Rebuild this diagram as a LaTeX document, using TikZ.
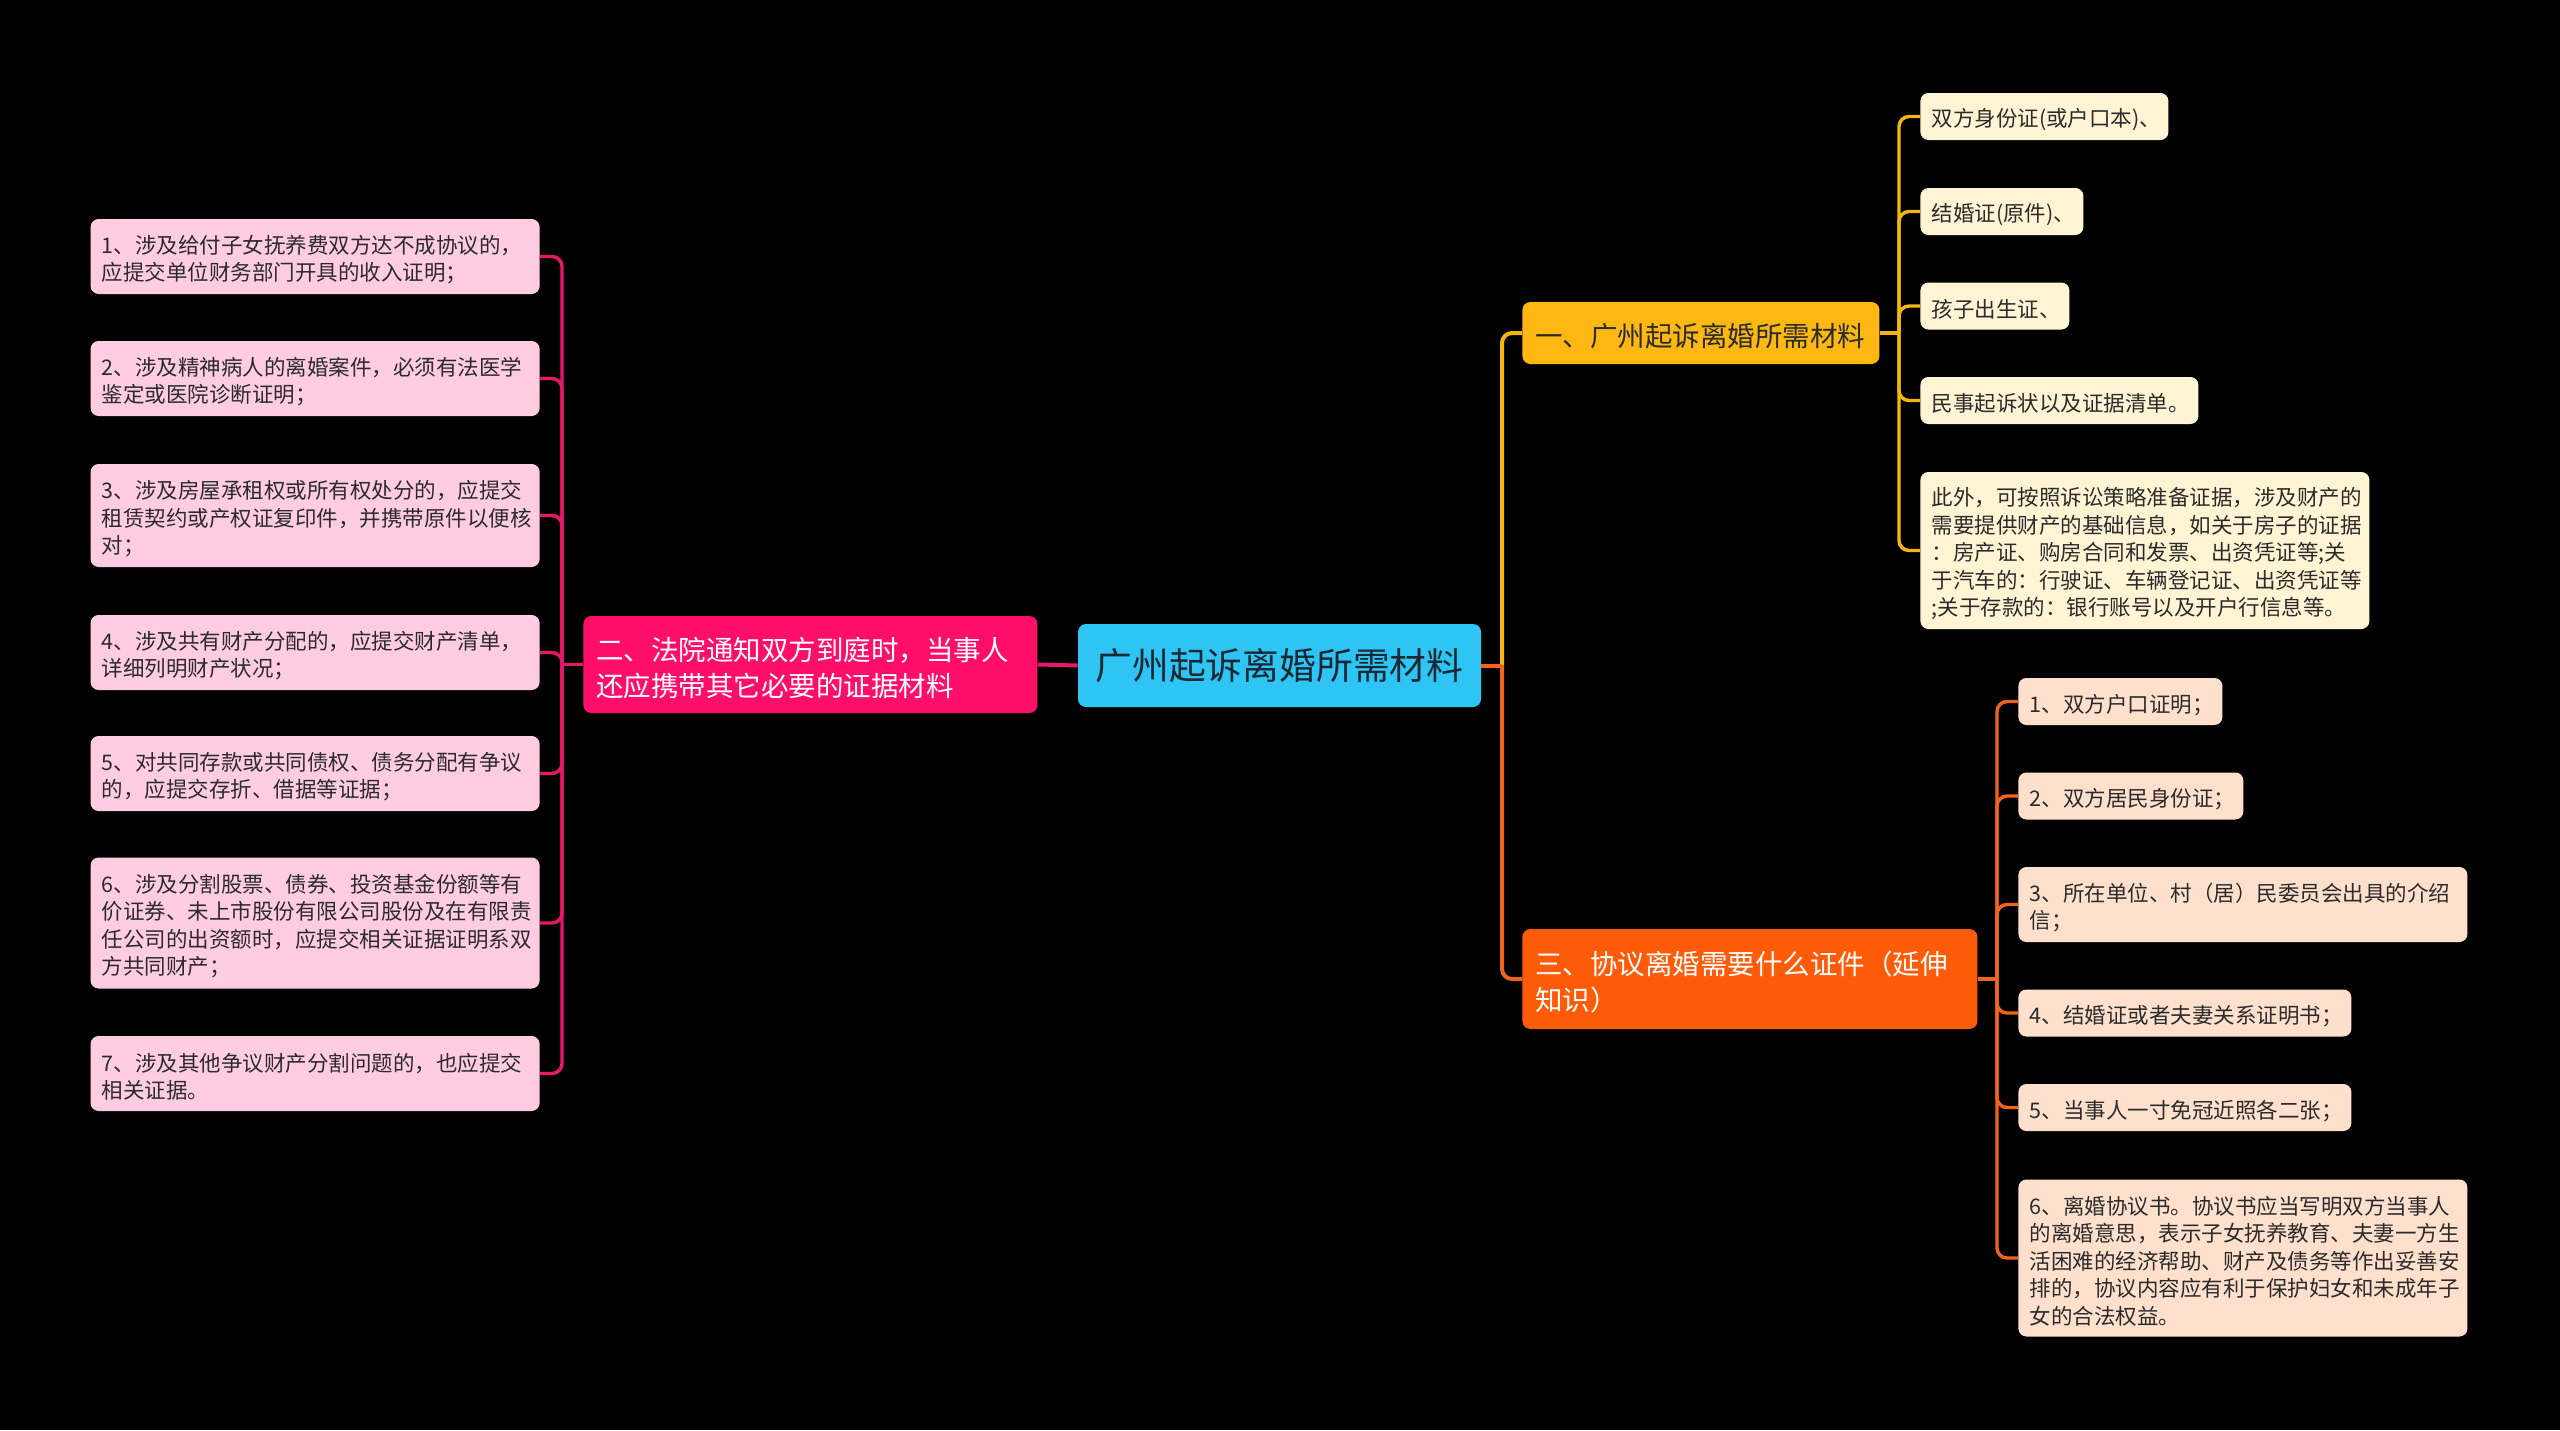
\documentclass[tikz,border=0pt]{standalone}
\usepackage{fontspec}
\setmainfont{Noto Sans CJK SC}
\definecolor{cyanC}{RGB}{46,196,243}
\definecolor{pinkB}{RGB}{255,15,106}
\definecolor{pinkL}{RGB}{255,204,225}
\definecolor{pinkLine}{RGB}{232,23,106}
\definecolor{goldB}{RGB}{255,184,17}
\definecolor{creamL}{RGB}{255,245,213}
\definecolor{goldLine}{RGB}{245,182,15}
\definecolor{orangeB}{RGB}{255,92,10}
\definecolor{peachL}{RGB}{255,224,205}
\definecolor{orangeLine}{RGB}{240,100,30}
\definecolor{darktext}{RGB}{43,43,43}
\tikzset{
  x=0.5pt, y=-0.5pt,
  leafbox/.style={rounded corners=4pt, inner xsep=5.6pt, inner ysep=0pt, align=left, text=darktext,
    font=\fontsize{10.75pt}{13.75pt}\selectfont, execute at begin node={\rule{0pt}{1.15em}}},
  branchbox/.style={rounded corners=4pt, inner xsep=6.5pt, inner ysep=0pt, align=left, text=white,
    font=\fontsize{13.75pt}{18pt}\selectfont, anchor=west, execute at begin node={\rule{0pt}{1.1em}}},
  pinkleaf/.style={leafbox, fill=pinkL, anchor=east, text width=213.3pt, minimum height=#1},
  creamleaf/.style={leafbox, fill=creamL, anchor=west},
  peachleaf/.style={leafbox, fill=peachL, anchor=west},
  pinkwire/.style={draw=pinkLine, line width=1.7pt, rounded corners=5pt},
  goldwire/.style={draw=goldLine, line width=1.7pt, rounded corners=5pt},
  orangewire/.style={draw=orangeLine, line width=1.7pt, rounded corners=5pt},
}
\begin{document}
\begin{tikzpicture}
\fill[black] (0,0) rectangle (2560,1430);
\useasboundingbox (0,0) rectangle (2560,1430);

% central
\node[rounded corners=4pt, fill=cyanC, text={rgb,255:red,26;green,40;blue,52}, inner sep=0pt,
  minimum width=201.5pt, minimum height=41.5pt, font=\fontsize{18.4pt}{22pt}\selectfont]
  (C) at (1279.5,665.5) {\raisebox{-1pt}{广州起诉离婚所需材料}};

% branches
\node[branchbox, fill=pinkB, text width=214pt, minimum height=48.5pt] (B2) at (583,664.5)
  {二、法院通知双方到庭时，当事人\\还应携带其它必要的证据材料};
\node[branchbox, fill=goldB, text=darktext, text width=165.5pt, minimum height=31pt] (B1) at (1522,333)
  {一、广州起诉离婚所需材料};
\node[branchbox, fill=orangeB, text width=214.5pt, minimum height=50pt] (B3) at (1522,979)
  {三、协议离婚需要什么证件（延伸\\知识）};

% left leaves
\node[pinkleaf=37.5pt] (L1) at (540,256.5) {1、涉及给付子女抚养费双方达不成协议的，\\应提交单位财务部门开具的收入证明；};
\node[pinkleaf=37.5pt] (L2) at (540,378.5) {2、涉及精神病人的离婚案件，必须有法医学\\鉴定或医院诊断证明；};
\node[pinkleaf=51.5pt] (L3) at (540,515.5) {3、涉及房屋承租权或所有权处分的，应提交\\租赁契约或产权证复印件，并携带原件以便核\\对；};
\node[pinkleaf=37.5pt] (L4) at (540,652.5) {4、涉及共有财产分配的，应提交财产清单，\\详细列明财产状况；};
\node[pinkleaf=37.5pt] (L5) at (540,773.5) {5、对共同存款或共同债权、债务分配有争议\\的，应提交存折、借据等证据；};
\node[pinkleaf=65.5pt] (L6) at (540,923) {6、涉及分割股票、债券、投资基金份额等有\\价证券、未上市股份有限公司股份及在有限责\\任公司的出资额时，应提交相关证据证明系双\\方共同财产；};
\node[pinkleaf=37.5pt] (L7) at (540,1073.5) {7、涉及其他争议财产分割问题的，也应提交\\相关证据。};

% top right leaves
\node[creamleaf, text width=112.8pt, minimum height=23.5pt] (T1) at (1920,116.5) {双方身份证(或户口本)、};
\node[creamleaf, text width=70.3pt, minimum height=23.5pt] (T2) at (1920,211.5) {结婚证(原件)、};
\node[creamleaf, text width=63.3pt, minimum height=23.5pt] (T3) at (1920,306) {孩子出生证、};
\node[creamleaf, text width=127.8pt, minimum height=23.5pt] (T4) at (1920,400.5) {民事起诉状以及证据清单。};
\node[creamleaf, text width=213.3pt, minimum height=78.5pt] (T5) at (1920,550.5) {此外，可按照诉讼策略准备证据，涉及财产的\\需要提供财产的基础信息，如关于房子的证据\\：房产证、购房合同和发票、出资凭证等;关\\于汽车的：行驶证、车辆登记证、出资凭证等\\;关于存款的：银行账号以及开户行信息等。};

% bottom right leaves
\node[peachleaf, text width=90.8pt, minimum height=23.5pt] (R1) at (2018,701.5) {1、双方户口证明；};
\node[peachleaf, text width=101.3pt, minimum height=23.5pt] (R2) at (2018,796) {2、双方居民身份证；};
\node[peachleaf, text width=213.3pt, minimum height=37.5pt] (R3) at (2018,904.5) {3、所在单位、村（居）民委员会出具的介绍\\信；};
\node[peachleaf, text width=155.3pt, minimum height=23.5pt] (R4) at (2018,1013) {4、结婚证或者夫妻关系证明书；};
\node[peachleaf, text width=155.3pt, minimum height=23.5pt] (R5) at (2018,1107.5) {5、当事人一寸免冠近照各二张；};
\node[peachleaf, text width=213.3pt, minimum height=78.5pt] (R6) at (2018,1258) {6、离婚协议书。协议书应当写明双方当事人\\的离婚意思，表示子女抚养教育、夫妻一方生\\活困难的经济帮助、财产及债务等作出妥善安\\排的，协议内容应有利于保护妇女和未成年子\\女的合法权益。};

% junctions
\coordinate (jc) at (1502,665.5);
\coordinate (j1) at (1899,333);
\coordinate (j2) at (562,664.5);
\coordinate (j3) at (1997,979);

% main connectors
\draw[pinkwire, line width=2pt] (C.west) -- (B2.east);
\draw[goldwire, line width=2pt] (jc) |- (B1.west);
\draw[orangewire, line width=2pt] (jc) |- (B3.west);
\draw[orangewire, line width=2pt] (C.east) -- (jc);

% left
\draw[pinkwire] (B2.west) -- (j2);
\foreach \n in {L1,L2,L3,L4,L5,L6,L7} \draw[pinkwire] (j2) |- (\n.east);
% top right
\draw[goldwire] (B1.east) -- (j1);
\foreach \n in {T1,T2,T3,T4,T5} \draw[goldwire] (j1) |- (\n.west);
% bottom right
\draw[orangewire] (B3.east) -- (j3);
\foreach \n in {R1,R2,R3,R4,R5,R6} \draw[orangewire] (j3) |- (\n.west);
\end{tikzpicture}
\end{document}
